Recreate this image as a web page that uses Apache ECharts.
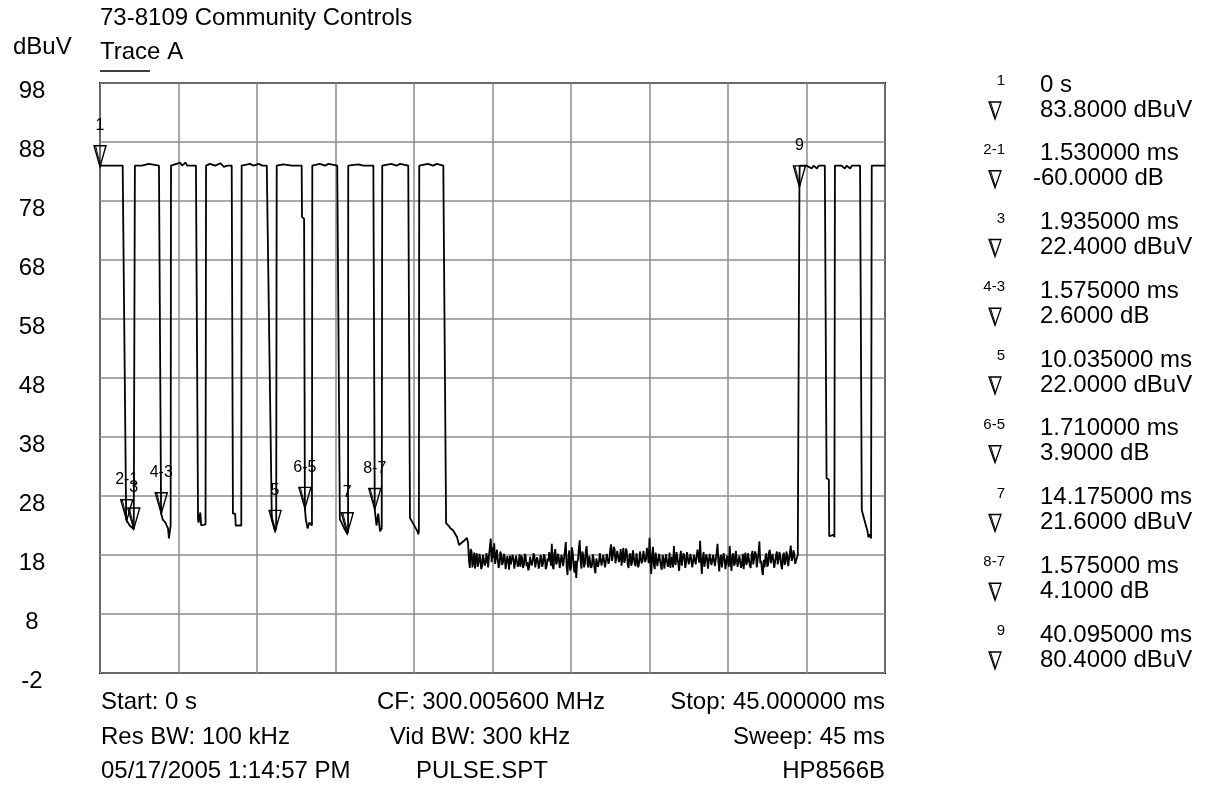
<!DOCTYPE html>
<html><head><meta charset="utf-8">
<script src="https://cdn.jsdelivr.net/npm/echarts@6/dist/echarts.min.js"></script>
<style>html,body{margin:0;padding:0;background:#fff}#c{width:1206px;height:788px}</style>
</head><body><div id="c"></div>
<script>
const FONT = '"Liberation Sans", Arial, sans-serif';

// ---- axis ranges ----
const xRange = [0, 45];          // ms
const xStep = 4.5;
const yRange = [-2, 98];         // dBuV
const yStep = 10;

// ---- trace: pulse section [ms, dBuV] ----
const pulseTrace = [
  [0,84],[1.3,84],[1.5,24],[1.53,23.8],[1.7,23],[1.935,22.4],[1.99,22.7],[2.0,84],
  [2.4,84],[2.8,84.3],[3.38,84],[3.5,26],[3.51,25],[3.6,24],[3.75,23.5],[3.9,22.5],[3.95,20.8],[4.02,21],[4.05,23],[4.07,84],
  [4.6,84.5],[4.7,84],[4.9,84.5],[5.0,84],[5.5,84],[5.62,24],[5.65,23.5],[5.75,25.2],[5.8,23],[6.05,23.2],[6.08,84],
  [6.3,84.3],[6.6,84],[6.9,84.4],[7.1,83.8],[7.3,84],[7.55,84],[7.62,25],[7.75,25],[7.78,23],[8.1,23],[8.12,84],
  [8.6,84.3],[8.8,84],[9.1,84.3],[9.3,84],[9.56,84],[9.85,24],[9.95,23],[10.035,22],[10.1,22.5],[10.13,84],
  [10.5,84.2],[11.0,84],[11.56,84],[11.58,75.3],[11.7,75],[11.745,25.9],[11.8,24],[11.9,22.5],[12.0,23.5],[12.15,23],[12.17,84],
  [12.6,84.3],[12.9,84],[13.1,84.3],[13.6,84],[13.75,24],[13.85,23.5],[14.0,22.5],[14.175,21.6],[14.22,22],[14.23,84],
  [14.8,84.2],[15.1,84],[15.67,84],[15.75,25.7],[15.85,23],[15.95,25],[16.05,22],[16.15,22.5],[16.18,84],
  [16.7,84.3],[17.0,84],[17.2,84.3],[17.67,84],[17.77,24.3],[18.2,22],[18.25,21.5],[18.28,22],[18.3,84],
  [18.8,84.3],[19.1,84],[19.3,84.3],[19.68,84],[19.84,23.4],[20.0,22.9],[20.1,22.5],[20.24,22.2],[20.47,21.0],
  [20.58,19.7],[20.7,20.0],[20.8,20.2],[20.9,20.5],[21.04,20.9]
];

// ---- trace: noise floor, one level per sample (0.05 ms apart) ----
const noiseStartMs = 21.1;
const noiseStepMs = 0.05;
const noiseLevels = [
  20.0,17.1,15.8,19.0,18.6,15.9,16.9,18.4,15.7,17.6,18.3,16.0,16.6,18.2,17.5,15.6,16.1,18.0,17.2,16.2,
  16.6,18.3,17.4,15.9,17.9,19.4,20.8,16.8,19.3,17.5,20.0,16.5,17.4,18.9,19.0,15.8,16.4,18.6,18.1,16.3,
  16.7,18.2,17.7,15.6,15.9,17.8,17.0,15.5,17.9,16.4,16.2,18.0,17.4,15.7,15.8,17.9,17.6,16.0,16.5,18.1,
  16.0,17.9,17.5,15.8,16.3,18.2,17.8,16.1,16.8,15.4,15.9,17.7,17.6,16.2,16.9,18.3,17.9,15.9,16.1,17.6,
  17.1,15.7,16.3,18.0,17.5,16.0,16.6,18.1,17.7,15.6,16.0,17.4,16.9,18.5,17.5,16.2,19.9,16.1,15.6,18.4,
  19.0,16.4,16.8,18.2,17.6,15.8,16.7,18.0,17.4,16.1,15.9,18.7,20.2,16.0,14.6,17.5,18.8,15.4,15.8,19.3,
  18.4,16.2,15.0,17.0,14.1,16.8,17.2,19.1,20.5,17.0,15.7,18.6,18.0,15.9,16.6,18.8,19.5,16.4,15.9,17.8,
  17.9,15.8,16.2,18.1,17.3,15.6,14.9,17.4,17.6,16.0,16.7,18.3,18.1,16.2,16.4,18.0,17.8,15.9,16.9,18.2,
  18.3,16.5,17.2,19.0,19.8,17.0,17.9,19.4,19.0,16.6,16.9,18.7,18.8,16.8,17.6,19.0,16.2,17.9,19.2,16.7,
  17.2,19.1,18.6,16.4,15.8,17.9,18.3,16.2,16.7,18.8,18.7,16.5,16.1,18.3,18.0,15.9,16.5,18.6,18.4,16.6,
  17.0,18.7,19.0,16.8,17.3,19.2,18.2,16.6,20.9,17.2,14.8,18.0,19.4,16.3,15.6,18.4,18.5,16.1,16.0,18.2,
  17.9,16.2,15.5,18.0,17.5,15.7,15.8,18.1,18.2,16.0,16.6,18.4,15.8,17.3,17.7,15.9,19.5,16.8,16.3,18.5,
  18.4,16.6,15.3,17.6,18.7,16.2,16.0,18.3,17.8,15.8,16.8,18.5,18.6,16.4,16.5,18.2,18.0,15.9,16.1,18.0,
  18.3,16.4,16.6,18.9,18.8,16.7,20.4,17.1,14.8,17.3,18.5,16.0,15.8,18.1,17.5,15.7,16.0,18.2,17.9,16.3,
  16.4,18.0,18.2,16.1,15.9,18.4,19.9,16.8,15.2,17.6,18.0,15.9,16.2,18.3,17.4,15.6,15.8,17.9,17.7,16.0,
  19.5,16.9,15.3,17.8,18.3,16.2,16.6,18.7,18.6,16.0,15.7,17.9,17.9,15.8,16.4,18.2,15.6,17.6,18.4,16.3,
  16.8,18.3,18.5,16.2,15.8,18.0,18.7,16.4,16.5,18.6,18.2,15.9,16.2,18.4,20.3,16.6,17.0,15.4,14.6,17.2,
  15.9,17.7,18.3,16.0,16.4,18.5,18.9,16.6,16.9,18.2,18.0,15.8,16.0,17.9,18.6,16.4,17.2,18.5,17.8,16.2,
  15.6,17.8,18.4,16.3,16.8,18.6,17.9,16.1,16.4,18.4,19.6,17.0,17.4,18.8,18.2,16.5,16.8
];

// ---- trace: after the noise floor [ms, dBuV] ----
const tailTrace = [
  [40.0,18.0],[40.07,18.2],[40.095,80.4],[40.11,84],[40.5,84],[40.8,83.5],[40.9,84],[41.1,83.5],[41.2,84],[41.55,84],
  [41.65,31],[41.78,30.8],[41.8,21.2],[42.05,21.4],[42.1,21.0],[42.13,84],
  [42.5,84],[42.7,83.5],[42.8,84],[43.0,83.5],[43.1,84],[43.57,84],[43.67,25.6],[44.0,22],[44.05,21],[44.1,21.5],[44.2,20.8],[44.23,21],[44.24,84],[45,84]
];

// ---- markers ----
const markerIds = ['1','2-1','3','4-3','5','6-5','7','8-7','9'];
const markerTimes = [0, 1.53, 1.935, 3.51, 10.035, 11.745, 14.175, 15.75, 40.095];
const markerLevels = [83.8, 23.8, 22.4, 25.0, 22.0, 25.9, 21.6, 25.7, 80.4];
const readoutTime = ['0 s','1.530000 ms','1.935000 ms','1.575000 ms','10.035000 ms','1.710000 ms','14.175000 ms','1.575000 ms','40.095000 ms'];
const readoutLevel = ['83.8000 dBuV','-60.0000 dB','22.4000 dBuV','2.6000 dB','22.0000 dBuV','3.9000 dB','21.6000 dBuV','4.1000 dB','80.4000 dBuV'];

// ---- header / footer text ----
const titleText = '73-8109 Community Controls';
const traceText = 'Trace A';
const unitText = 'dBuV';
const footerLeft = ['Start: 0 s','Res BW: 100 kHz','05/17/2005 1:14:57 PM'];
const footerCenter = ['CF: 300.005600 MHz','Vid BW: 300 kHz','PULSE.SPT'];
const footerRight = ['Stop: 45.000000 ms','Sweep: 45 ms','HP8566B'];

// ---- build ----
const traceData = pulseTrace
  .concat(noiseLevels.map((v, i) => [+(noiseStartMs + i * noiseStepMs).toFixed(3), v]))
  .concat(tailTrace);

const chart = echarts.init(document.getElementById('c'), null, {renderer: 'canvas'});
const g = [];
const txt = (x, y, s, size, align) => ({
  type: 'text', x, y, silent: true,
  style: {text: s, font: size + 'px ' + FONT, fill: '#000', align: align || 'left', verticalAlign: 'middle'}
});

g.push(txt(100, 18, titleText, 24));
g.push(txt(13, 47, unitText, 24));
g.push(txt(100, 52, traceText, 24));
g.push({type: 'line', silent: true, shape: {x1: 100, y1: 71, x2: 150, y2: 71}, style: {stroke: '#000', lineWidth: 1.5}});

const fy = [702, 737, 771];
const cx = [491, 480, 482];
for (let i = 0; i < 3; i++) {
  g.push(txt(101, fy[i], footerLeft[i], 24, 'left'));
  g.push(txt(cx[i], fy[i], footerCenter[i], 24, 'center'));
  g.push(txt(885, fy[i], footerRight[i], 24, 'right'));
}

for (let i = 0; i < markerIds.length; i++) {
  const y1 = 85 + 68.75 * i;
  const y2 = y1 + 25;
  g.push(txt(1005, y1 - 4, markerIds[i], 15, 'right'));
  g.push({type: 'polygon', silent: true, shape: {points: [[989, y2 - 8], [1001, y2 - 8], [995, y2 + 9]]},
    style: {fill: 'none', stroke: '#000', lineWidth: 1.3}});
  g.push({type: 'line', silent: true, shape: {x1: 990.5, y1: y2 - 8, x2: 995.5, y2: y2 + 8},
    style: {stroke: '#000', lineWidth: 1}});
  g.push(txt(1040, y1, readoutTime[i], 24, 'left'));
  g.push(txt(readoutLevel[i].charAt(0) === '-' ? 1033 : 1040, y2, readoutLevel[i], 24, 'left'));
}

chart.setOption({
  animation: false,
  backgroundColor: '#fff',
  grid: {left: 100, top: 83, width: 785, height: 590, show: true, borderColor: '#000', borderWidth: 2, backgroundColor: 'transparent'},
  xAxis: {
    type: 'value', min: xRange[0], max: xRange[1], interval: xStep,
    axisLine: {show: false}, axisTick: {show: false}, axisLabel: {show: false},
    splitLine: {show: true, lineStyle: {color: '#8c8c8c', width: 1.5}}
  },
  yAxis: {
    type: 'value', min: yRange[0], max: yRange[1], interval: yStep,
    axisLine: {show: false}, axisTick: {show: false},
    axisLabel: {show: true, margin: 68, align: 'center',
      formatter: v => '{t|' + v + '}',
      rich: {t: {color: '#000', fontSize: 24, fontFamily: FONT, padding: [16, 0, 0, 0]}}},
    splitLine: {show: true, lineStyle: {color: '#8c8c8c', width: 1.5}}
  },
  series: [
    {type: 'line', data: traceData, showSymbol: false, symbol: 'none', lineStyle: {color: '#000', width: 1.8}, z: 3, clip: true},
    {type: 'custom', clip: false, z: 5, data: markerTimes.map((t, i) => [t, markerLevels[i]]),
      renderItem: (params, api) => {
        const p = api.coord([api.value(0), api.value(1)]);
        const id = markerIds[params.dataIndex];
        return {type: 'group', children: [
          {type: 'polygon', shape: {points: [[p[0] - 6, p[1] - 21], [p[0] + 6, p[1] - 21], [p[0], p[1]]]},
            style: {fill: 'none', stroke: '#000', lineWidth: 1.4}},
          {type: 'line', shape: {x1: p[0] - 4.5, y1: p[1] - 21, x2: p[0] + 0.5, y2: p[1] - 1},
            style: {stroke: '#000', lineWidth: 1}},
          {type: 'text', style: {text: id, x: p[0], y: p[1] - 41, align: 'center', verticalAlign: 'middle',
            font: '16px ' + FONT, fill: '#000'}}
        ]};
      }}
  ],
  graphic: g
});
</script></body></html>
